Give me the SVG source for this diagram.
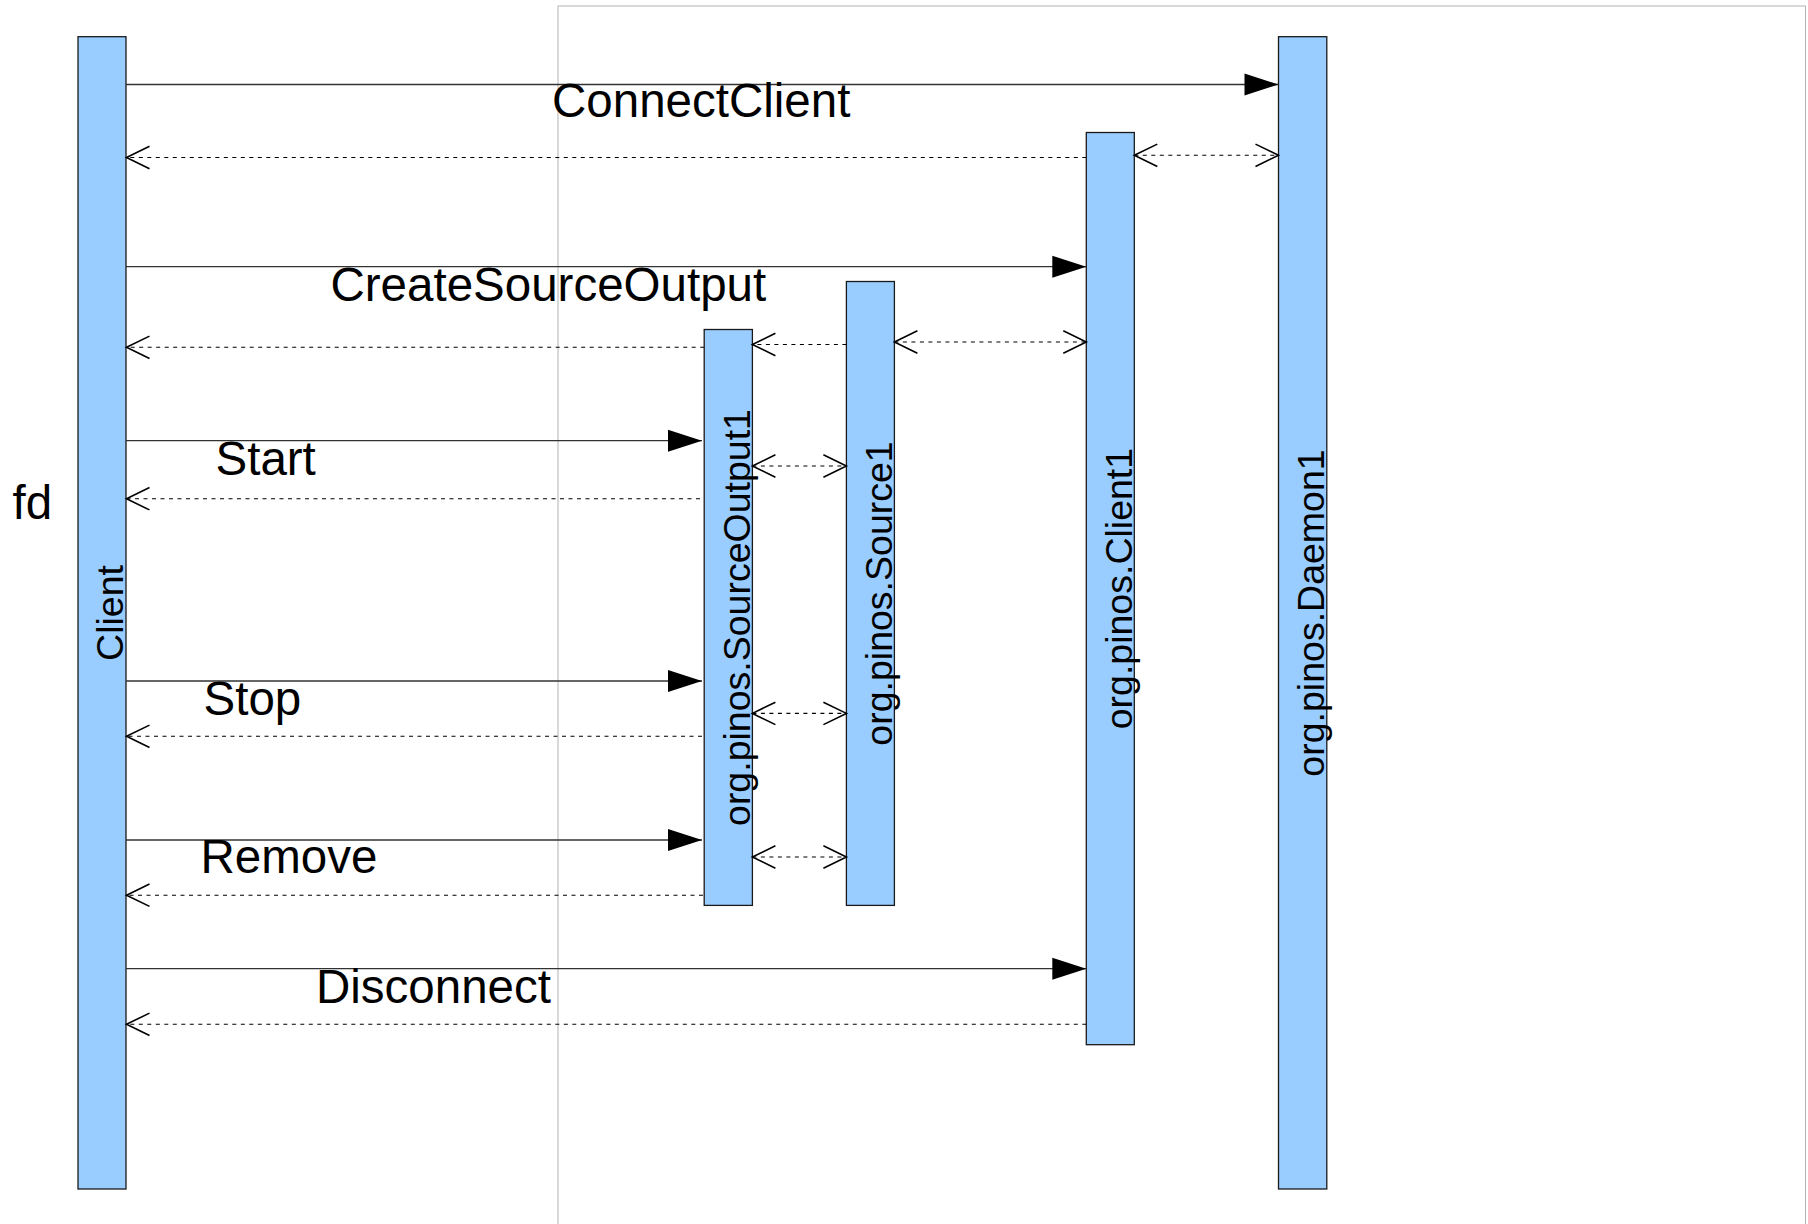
<svg xmlns="http://www.w3.org/2000/svg" width="1808" height="1224" viewBox="0 0 1808 1224">
<style>
.bar{fill:#99ccff;stroke:#1a1a1a;stroke-width:1.3}
.lbl{font-family:"Liberation Sans",Arial,sans-serif;font-size:47.5px;fill:#000}
.vlbl{font-family:"Liberation Sans",Arial,sans-serif;font-size:37.5px;fill:#000;text-anchor:middle}
.call{stroke:#333;stroke-width:1.3;fill:none;marker-end:url(#filled)}
.ret{stroke:#000;stroke-width:1.1;fill:none;stroke-dasharray:4 4.5;marker-end:url(#open)}
.bi{stroke:#000;stroke-width:1.1;fill:none;stroke-dasharray:4 4.5;marker-start:url(#open);marker-end:url(#open)}
</style>
<defs>
<marker id="filled" markerUnits="userSpaceOnUse" markerWidth="36" markerHeight="24" refX="34" refY="11" orient="auto" overflow="visible">
<path d="M0,0 L34,11 L0,22 Z" fill="#000"/>
</marker>
<marker id="open" markerUnits="userSpaceOnUse" markerWidth="26" markerHeight="26" refX="23" refY="11.2" orient="auto-start-reverse" overflow="visible">
<path d="M0,0 L23,11.2 L0,22.4" fill="none" stroke="#000" stroke-width="1.6"/>
</marker>
</defs>
<rect id="frame" x="558" y="6" width="1247.5" height="1240" fill="none" stroke="#b3b3b3" stroke-width="1"/>
<g id="node-client">
<rect class="bar" x="78" y="36.7" width="48" height="1152.3"/>
<text class="vlbl" transform="translate(123,613) rotate(-90)">Client</text>
</g>
<g id="node-sourceoutput1">
<rect class="bar" x="704.2" y="329.5" width="48.2" height="575.9"/>
<text class="vlbl" transform="translate(749.8,617.5) rotate(-90)">org.pinos.SourceOutput1</text>
</g>
<g id="node-source1">
<rect class="bar" x="846.4" y="281.5" width="48" height="623.9"/>
<text class="vlbl" transform="translate(891.5,593.5) rotate(-90)">org.pinos.Source1</text>
</g>
<g id="node-client1">
<rect class="bar" x="1086.3" y="132.5" width="48" height="912.2"/>
<text class="vlbl" transform="translate(1131.5,588.6) rotate(-90)">org.pinos.Client1</text>
</g>
<g id="node-daemon1">
<rect class="bar" x="1278.5" y="36.7" width="48.3" height="1152.3"/>
<text class="vlbl" transform="translate(1323.8,613) rotate(-90)">org.pinos.Daemon1</text>
</g>
<g id="connectors">
<line class="call" x1="126" y1="84.5" x2="1278.5" y2="84.5"/>
<line class="ret" x1="1086.3" y1="157.5" x2="126.5" y2="157.5"/>
<line class="bi" x1="1134.3" y1="155.3" x2="1278.5" y2="155.3"/>
<line class="call" x1="126" y1="266.7" x2="1086.3" y2="266.7"/>
<line class="bi" x1="894.4" y1="342" x2="1086.3" y2="342"/>
<line class="ret" x1="846.4" y1="344.5" x2="752.4" y2="344.5"/>
<line class="ret" x1="704.2" y1="347.3" x2="126.5" y2="347.3"/>
<line class="call" x1="126" y1="440.7" x2="702" y2="440.7"/>
<line class="bi" x1="752.4" y1="466" x2="846.4" y2="466"/>
<line class="ret" x1="700" y1="498.7" x2="126.5" y2="498.7"/>
<line class="call" x1="126" y1="681" x2="702" y2="681"/>
<line class="bi" x1="752.4" y1="713.4" x2="846.4" y2="713.4"/>
<line class="ret" x1="702" y1="736.3" x2="126.5" y2="736.3"/>
<line class="call" x1="126" y1="840" x2="702" y2="840"/>
<line class="bi" x1="752.4" y1="857" x2="846.4" y2="857"/>
<line class="ret" x1="703" y1="895.2" x2="126.5" y2="895.2"/>
<line class="call" x1="126" y1="968.7" x2="1086.3" y2="968.7"/>
<line class="ret" x1="1086.3" y1="1024.3" x2="126.5" y2="1024.3"/>
</g>
<g id="labels">
<text class="lbl" x="552" y="117.3">ConnectClient</text>
<text class="lbl" x="330.5" y="301">CreateSourceOutput</text>
<text class="lbl" x="215.5" y="475">Start</text>
<text class="lbl" x="203.5" y="715">Stop</text>
<text class="lbl" x="200.5" y="873.3">Remove</text>
<text class="lbl" x="316" y="1002.7">Disconnect</text>
<text class="lbl" x="12.5" y="519.3">fd</text>
</g>
</svg>
